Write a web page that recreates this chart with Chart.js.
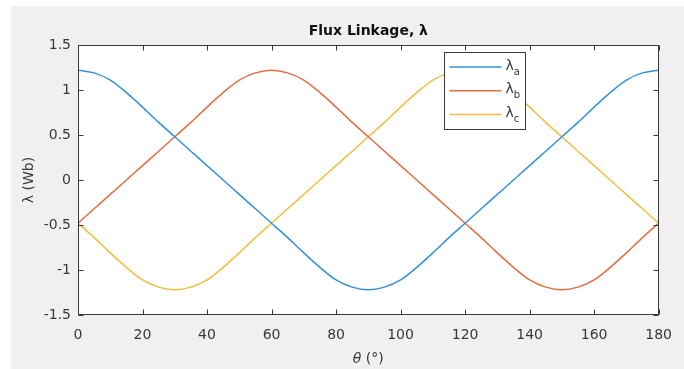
<!DOCTYPE html>
<html>
<head>
<meta charset="utf-8">
<title>Flux Linkage</title>
<script src="https://cdn.jsdelivr.net/npm/chart.js@4.4.1/dist/chart.umd.min.js"></script>
<style>
  html, body { margin: 0; padding: 0; background: #fff; }
  #wrap { width: 684px; height: 369px; }
</style>
</head>
<body>
<div id="wrap"><canvas id="chart" width="684" height="369"></canvas></div>
<script>
"use strict";

// Rotor angle (deg) and the three phase flux linkages (Wb).
const THETA = [0, 5, 10, 15, 20, 25, 30, 35, 40, 45, 50, 55, 60, 65, 70, 75, 80, 85, 90,
  95, 100, 105, 110, 115, 120, 125, 130, 135, 140, 145, 150, 155, 160, 165, 170, 175, 180];

const LAMBDA_A = [1.22, 1.19, 1.11, 0.97, 0.81, 0.64, 0.48, 0.32, 0.16, 0.00, -0.16, -0.32,
  -0.48, -0.64, -0.81, -0.97, -1.11, -1.19, -1.22, -1.19, -1.11, -0.97, -0.81, -0.64, -0.48,
  -0.32, -0.16, 0.00, 0.16, 0.32, 0.48, 0.64, 0.81, 0.97, 1.11, 1.19, 1.22];

const LAMBDA_B = [-0.48, -0.32, -0.16, 0.00, 0.16, 0.32, 0.48, 0.64, 0.81, 0.97, 1.11, 1.19,
  1.22, 1.19, 1.11, 0.97, 0.81, 0.64, 0.48, 0.32, 0.16, 0.00, -0.16, -0.32, -0.48, -0.64,
  -0.81, -0.97, -1.11, -1.19, -1.22, -1.19, -1.11, -0.97, -0.81, -0.64, -0.48];

const LAMBDA_C = [-0.48, -0.64, -0.81, -0.97, -1.11, -1.19, -1.22, -1.19, -1.11, -0.97, -0.81,
  -0.64, -0.48, -0.32, -0.16, 0.00, 0.16, 0.32, 0.48, 0.64, 0.81, 0.97, 1.11, 1.19, 1.22,
  1.19, 1.11, 0.97, 0.81, 0.64, 0.48, 0.32, 0.16, 0.00, -0.16, -0.32, -0.48];

const X_TICKS = [0, 20, 40, 60, 80, 100, 120, 140, 160, 180];
const Y_TICKS = [-1.5, -1, -0.5, 0, 0.5, 1, 1.5];

const SERIES_LABELS = ["λa", "λb", "λc"]; // first char normal, rest drawn as subscript
const COLORS = ["#3491d8", "#e26d40", "#f1be40"];

const FONT = "'DejaVu Sans', Verdana, sans-serif";
const TEXT = "#383838";
const AXIS = "#3a3a3a";

const $ = (id) => document.getElementById(id);

function points(ys) {
  return THETA.map((t, i) => ({ x: t, y: ys[i] }));
}

// Figure background, white axes face, and the MATLAB-style box with inward ticks.
const frame = {
  id: "frame",
  beforeDraw(chart) {
    const { ctx, chartArea: a, width, height } = chart;
    ctx.save();
    ctx.fillStyle = "#ffffff";
    ctx.fillRect(0, 0, width, height);
    ctx.fillStyle = "#f0f0f0";
    ctx.fillRect(11, 6, width - 11, height - 6);
    ctx.fillStyle = "#ffffff";
    ctx.fillRect(a.left, a.top, a.right - a.left, a.bottom - a.top);
    ctx.restore();
  },
  afterDatasetsDraw(chart) {
    const { ctx, chartArea: a, scales: { x, y } } = chart;
    const L = Math.round(a.left) + 0.5, R = Math.round(a.right) - 0.5;
    const T = Math.round(a.top) + 0.5, B = Math.round(a.bottom) - 0.5;
    const len = 5;
    ctx.save();
    ctx.strokeStyle = AXIS;
    ctx.lineWidth = 1;
    ctx.beginPath();
    X_TICKS.forEach((v) => {
      const px = Math.round(x.getPixelForValue(v)) + 0.5;
      ctx.moveTo(px, B); ctx.lineTo(px, B - len);
      ctx.moveTo(px, T); ctx.lineTo(px, T + len);
    });
    Y_TICKS.forEach((v) => {
      const py = Math.round(y.getPixelForValue(v)) + 0.5;
      ctx.moveTo(L, py); ctx.lineTo(L + len, py);
      ctx.moveTo(R, py); ctx.lineTo(R - len, py);
    });
    ctx.stroke();
    ctx.strokeRect(L, T, R - L, B - T);
    ctx.restore();
  },
};

// Legend box inside the axes, with subscripted labels.
const legendBox = {
  id: "legendBox",
  afterDatasetsDraw(chart) {
    const { ctx, chartArea: a } = chart;
    const left = Math.round(a.left) + 366.5, top = Math.round(a.top) + 7.5;
    const w = 81, h = 77;
    ctx.save();
    ctx.fillStyle = "#ffffff";
    ctx.fillRect(left, top, w, h);
    ctx.strokeStyle = AXIS;
    ctx.lineWidth = 1;
    ctx.strokeRect(left, top, w, h);
    chart.data.datasets.forEach((ds, i) => {
      const cy = top + 14.5 + i * 23.7;
      ctx.strokeStyle = ds.borderColor;
      ctx.lineWidth = 1.5;
      ctx.beginPath();
      ctx.moveTo(left + 5, cy);
      ctx.lineTo(left + 57, cy);
      ctx.stroke();
      ctx.fillStyle = TEXT;
      ctx.textBaseline = "middle";
      ctx.font = "14px " + FONT;
      const main = ds.label.charAt(0);
      ctx.fillText(main, left + 61, cy - 1);
      const mw = ctx.measureText(main).width;
      ctx.font = "10px " + FONT;
      ctx.fillText(ds.label.slice(1), left + 61 + mw, cy + 5);
    });
    ctx.restore();
  },
};

// x label with an italic theta.
const xLabel = {
  id: "xLabel",
  afterDraw(chart) {
    const { ctx, chartArea: a } = chart;
    const cx = (a.left + a.right) / 2, cy = 359;
    ctx.save();
    ctx.fillStyle = TEXT;
    ctx.textBaseline = "middle";
    ctx.font = "italic 14px " + FONT;
    const t1 = "θ";
    const w1 = ctx.measureText(t1).width;
    ctx.font = "14px " + FONT;
    const t2 = " (°)";
    const w2 = ctx.measureText(t2).width;
    const x0 = cx - (w1 + w2) / 2;
    ctx.font = "italic 14px " + FONT;
    ctx.fillText(t1, x0, cy);
    ctx.font = "14px " + FONT;
    ctx.fillText(t2, x0 + w1, cy);
    ctx.restore();
  },
};

function build() {
  const datasets = [LAMBDA_A, LAMBDA_B, LAMBDA_C].map((ys, i) => ({
    label: SERIES_LABELS[i],
    data: points(ys),
    borderColor: COLORS[i],
    backgroundColor: COLORS[i],
    borderWidth: 1.5,
    pointRadius: 0,
    tension: 0.35,
    fill: false,
  }));

  return new Chart($("chart"), {
    type: "line",
    data: { datasets },
    plugins: [frame, legendBox, xLabel],
    options: {
      responsive: false,
      animation: false,
      devicePixelRatio: 1,
      layout: { padding: { left: 0, right: 24, top: 0, bottom: 0 } },
      plugins: {
        legend: { display: false },
        tooltip: { enabled: false },
        title: {
          display: true,
          text: "Flux Linkage, λ",
          fullSize: false,
          color: "#111",
          font: { family: FONT, size: 14, weight: "bold", lineHeight: "16px" },
          padding: { top: 23, bottom: 6 },
        },
      },
      scales: {
        x: {
          type: "linear",
          min: 0,
          max: 180,
          afterBuildTicks: (s) => { s.ticks = X_TICKS.map((v) => ({ value: v })); },
          afterFit: (s) => { s.height = 54; },
          grid: { display: false, drawTicks: false },
          border: { display: false },
          ticks: { color: TEXT, font: { family: FONT, size: 14 }, padding: 12, maxRotation: 0,
            callback: (v) => String(v) },
        },
        y: {
          min: -1.5,
          max: 1.5,
          afterBuildTicks: (s) => { s.ticks = Y_TICKS.map((v) => ({ value: v })); },
          afterFit: (s) => { s.width = 78; },
          grid: { display: false, drawTicks: false },
          border: { display: false },
          ticks: { color: TEXT, font: { family: FONT, size: 14 }, padding: 7,
            callback: (v) => String(v) },
          title: {
            display: true,
            text: "λ (Wb)",
            color: TEXT,
            font: { family: FONT, size: 14, lineHeight: "16px" },
            padding: { top: 21 },
          },
        },
      },
    },
  });
}

build();
</script>
</body>
</html>
